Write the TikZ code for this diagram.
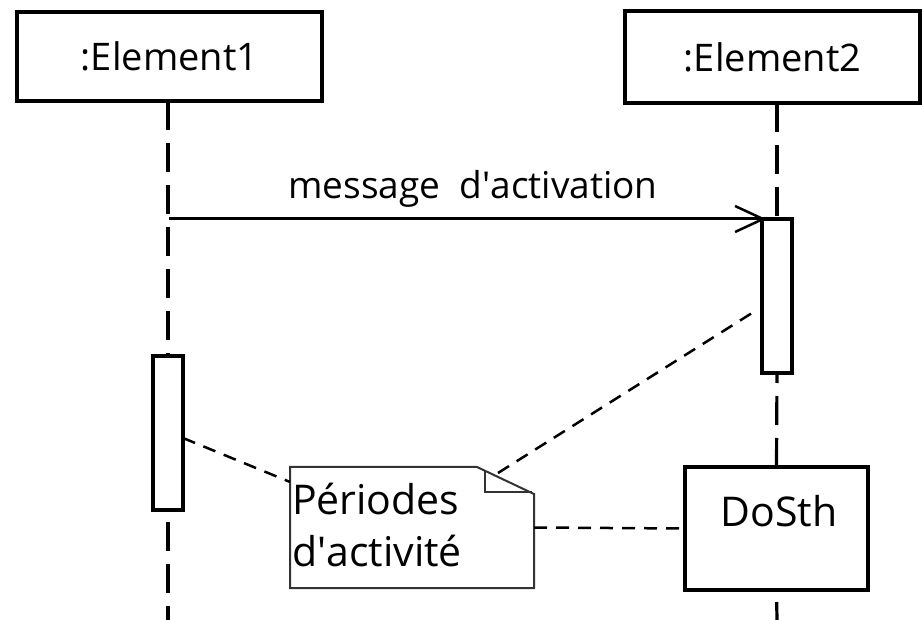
\documentclass[tikz,border=0pt]{standalone}
\usepackage{fontspec}
\setmainfont{Open Sans}
\usetikzlibrary{arrows.meta}
\begin{document}
\begin{tikzpicture}[x=1pt,y=-1pt,
  txt/.style={font=\fontsize{38}{52}\selectfont, text=black},
  bigtxt/.style={font=\fontsize{41}{52}\selectfont, text=black},
  objbox/.style={draw, line width=3.5pt, inner sep=0pt, outer sep=0pt, txt},
  lifeline/.style={line width=3.2pt, dash pattern=on 29pt off 13pt},
  barline/.style={line width=3.5pt, fill=white},
  msg/.style={line width=3pt, -{Straight Barb[length=28pt,width=26pt,line width=2.5pt]}},
  anchorline/.style={line width=2.5pt, dash pattern=on 13pt off 9pt},
  notebox/.style={draw=black!80, line width=2pt}]
\useasboundingbox (0,0) rectangle (922,620);

% objects
\node[objbox, minimum width=305pt, minimum height=89pt] (e1) at (169.5,56.5) {:Element1};
\node[objbox, minimum width=295pt, minimum height=92pt] (e2) at (772.5,57) {:Element2};

% activation bars and the DoSth box (empty shapes, outlined later on top)
\node[minimum width=30pt, minimum height=154pt, inner sep=0pt, outer sep=0pt] (act2) at (777,296) {};
\node[minimum width=30pt, minimum height=154pt, inner sep=0pt, outer sep=0pt] (act1) at (168,433) {};
\node[minimum width=183pt, minimum height=123pt, inner sep=0pt, outer sep=0pt] (dosth) at (776.5,528.5) {};
\coordinate (end1) at (168,620);
\coordinate (end2) at (777,620);

% lifelines
\draw[lifeline] (act1 |- e1.south) -- (act1.north);
\draw[lifeline, dash phase=30pt] (act1.south) -- (end1);
\draw[lifeline] (act2 |- e2.south) -- (act2.north);
\draw[lifeline, dash phase=19pt] (act2.south) -- (dosth.north);
\draw[lifeline, dash phase=30pt] (dosth.south) -- (end2);

% activation bars
\draw[barline] (act1.north west) rectangle (act1.south east);
\draw[barline] (act2.north west) rectangle (act2.south east);
\draw[barline] (dosth.north west) rectangle (dosth.south east);
\node[bigtxt] (dosthlabel) at (779,511) {DoSth};

% activation message
\coordinate (msgstart) at (169,219);
\draw[msg] (msgstart) -- ([xshift=4pt]act2.north west);
\node[txt, font=\fontsize{37}{52}\selectfont] (msglabel) at (473,189) {message~~d\textquotesingle activation};

% note with folded corner
\node[minimum width=244pt, minimum height=121pt, inner sep=0pt, outer sep=0pt] (note) at (412,527.5) {};
\draw[notebox, fill=white] (note.north west) -- ([xshift=-57pt]note.north east)
  -- ([yshift=-27pt]note.north east) -- (note.south east) -- (note.south west) -- cycle;
\draw[notebox] ([xshift=-49pt,yshift=-4pt]note.north east) -- ([xshift=-49pt,yshift=-25pt]note.north east)
  -- ([xshift=-2pt,yshift=-25pt]note.north east);
\node[bigtxt, align=left, anchor=north west, inner sep=0pt] (notetext) at (292,483) {Périodes\\d\textquotesingle activité};

% note anchors
\draw[anchorline] ([yshift=-5pt]act1.east) -- ([yshift=-15pt]note.north west);
\draw[anchorline] ([xshift=-36pt,yshift=-6pt]note.north east) -- ([xshift=-10pt,yshift=-17pt]act2.west);
\draw[anchorline] (note.east) -- (dosth.west);
\end{tikzpicture}
\end{document}
